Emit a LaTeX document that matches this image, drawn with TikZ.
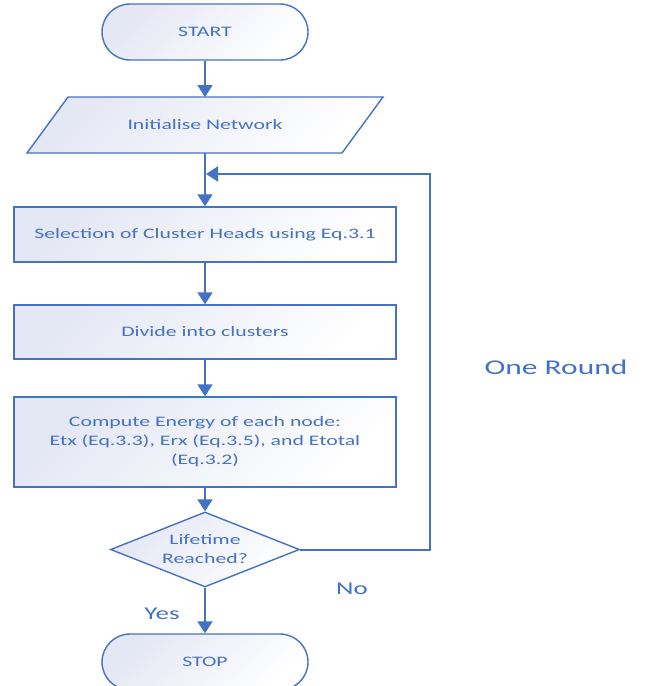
\documentclass[tikz,border=0pt]{standalone}
\usepackage{fontspec}
\setmainfont{Carlito}[FakeStretch=1.5]
\usetikzlibrary{shapes.geometric,arrows.meta}
\definecolor{bl}{HTML}{4472C4}
\definecolor{fl}{HTML}{E4E7F4}
\begin{document}
\begin{tikzpicture}[x=1pt,y=-1pt,
  every node/.style={text=bl, font=\fontsize{14.5}{19}\selectfont},
  shp/.style={draw=bl, line width=1.4pt, left color=fl, right color=white, shading angle=45},
  term/.style={shp, rectangle, rounded corners=28pt, minimum width=206pt, minimum height=56pt},
  proc/.style={shp, rectangle, minimum width=382pt, align=center},
  dec/.style={shp, diamond, minimum width=189pt, minimum height=75pt, aspect=2.5, inner sep=0pt, align=center},
  conn/.style={draw=bl, line width=2pt, -{Triangle[width=15pt,length=12pt]}},
  lbl/.style={text=bl, font=\fontsize{18}{22}\selectfont}
]
\useasboundingbox (0,0) rectangle (645,686);
\node[term] (start) at (205,32) {START};
\path[shp] (27,153) -- (68,97) -- (383,97) -- (342,153) -- cycle;
\coordinate (initTop) at (205,97);
\coordinate (initBot) at (205,153);
\node (init) at (205,125) {Initialise Network};
\node[proc, minimum height=55pt] (sel) at (205,234.5) {Selection of Cluster Heads using Eq.3.1};
\node[proc, minimum height=54pt] (div) at (205,332) {Divide into clusters};
\node[proc, minimum height=90pt] (comp) at (205,442) {Compute Energy of each node:\\Etx (Eq.3.3), Erx (Eq.3.5), and Etotal\\(Eq.3.2)};
\node[dec] (dec) at (205,549.5) {Lifetime\\Reached?};
\node[term] (stop) at (205,662) {STOP};
\coordinate (loopR) at (430,174);
\coordinate (merge) at (206,174);
\draw[conn] (start.south) -- (initTop);
\draw[conn] (initBot) -- (sel.north);
\draw[conn] (sel.south) -- (div.north);
\draw[conn] (div.south) -- (comp.north);
\draw[conn] (comp.south) -- (dec.north);
\draw[conn] (dec.south) -- (stop.north);
\draw[conn] (dec.east) -| (loopR) -- (merge);
\node[lbl] (no) at (352,589) {No};
\node[lbl] (yes) at (162,614) {Yes};
\node[lbl, font=\fontsize{21}{25}\selectfont] (round) at (556,367) {One Round};
\end{tikzpicture}
\end{document}
